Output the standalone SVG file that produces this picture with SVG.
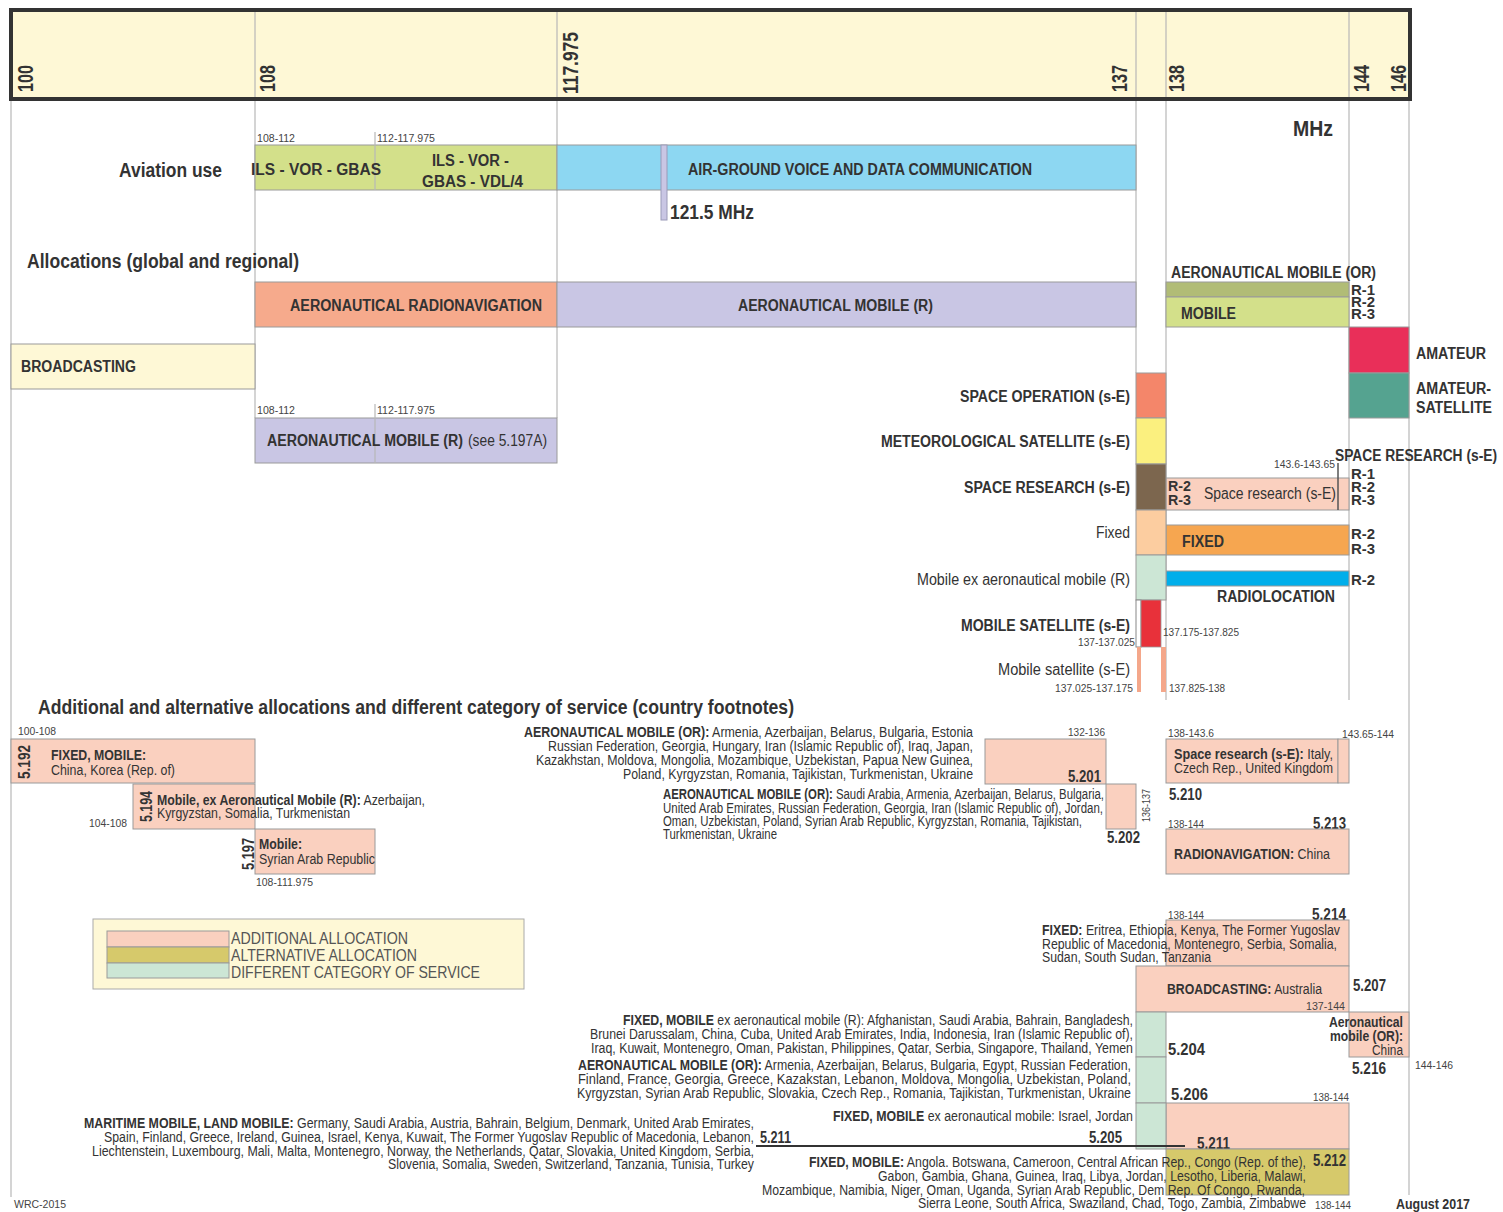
<svg xmlns="http://www.w3.org/2000/svg" width="1503" height="1212" viewBox="0 0 1503 1212">
<style>
text{font-family:"Liberation Sans Narrow","Liberation Sans",Arial,sans-serif;fill:#333}
.b{font-weight:bold}
.l{font-size:16px;font-weight:bold}
.h{font-size:22px;font-weight:bold}
.ti{font-size:20px;font-weight:bold}
.f{font-size:14px}
.s{font-size:11.5px;fill:#444}
.r{font-size:15px;font-weight:bold}
.lg{font-size:17px;fill:#555}
.g{stroke:#b8b8b8;stroke-width:1.2;fill:none}
.bx{stroke:#9a9a9a;stroke-width:1}
.pk{fill:#fad0bf}
</style>
<rect width="1503" height="1212" fill="#fff"/>

<g id="grid">
<line class="g" x1="11" y1="99" x2="11" y2="1197"/>
<line class="g" x1="255" y1="99" x2="255" y2="418"/>
<line class="g" x1="557" y1="99" x2="557" y2="418"/>
<line class="g" x1="1136" y1="99" x2="1136" y2="373"/>
<line class="g" x1="1166" y1="99" x2="1166" y2="700"/>
<line class="g" x1="1349" y1="99" x2="1349" y2="700"/>
<line class="g" x1="1409" y1="99" x2="1409" y2="1195"/>
</g>

<g id="header">
<rect x="11" y="10" width="1399" height="89" fill="#fef8d6" stroke="#333" stroke-width="4"/>
<g class="g">
<line x1="255" y1="12" x2="255" y2="97"/><line x1="557" y1="12" x2="557" y2="97"/>
<line x1="1136" y1="12" x2="1136" y2="97"/><line x1="1166" y1="12" x2="1166" y2="97"/>
<line x1="1349" y1="12" x2="1349" y2="97"/>
</g>
<text class="h" transform="translate(33,92) rotate(-90)" textLength="27" lengthAdjust="spacingAndGlyphs">100</text>
<text class="h" transform="translate(275,92) rotate(-90)" textLength="27" lengthAdjust="spacingAndGlyphs">108</text>
<text class="h" transform="translate(578,94) rotate(-90)" textLength="62" lengthAdjust="spacingAndGlyphs">117.975</text>
<text class="h" transform="translate(1127,92) rotate(-90)" textLength="27" lengthAdjust="spacingAndGlyphs">137</text>
<text class="h" transform="translate(1184,92) rotate(-90)" textLength="27" lengthAdjust="spacingAndGlyphs">138</text>
<text class="h" transform="translate(1369,92) rotate(-90)" textLength="27" lengthAdjust="spacingAndGlyphs">144</text>
<text class="h" transform="translate(1406,92) rotate(-90)" textLength="27" lengthAdjust="spacingAndGlyphs">146</text>
<text class="h" x="1293" y="136" textLength="40" lengthAdjust="spacingAndGlyphs">MHz</text>
</g>

<g id="aviation-use">
<text class="ti" x="119" y="177" textLength="103" lengthAdjust="spacingAndGlyphs">Aviation use</text>
<rect class="bx" x="255" y="145" width="302" height="45" fill="#d3e08a"/>
<line class="g" x1="375" y1="132" x2="375" y2="190"/>
<text class="s" x="257" y="142" textLength="38" lengthAdjust="spacingAndGlyphs">108-112</text>
<text class="s" x="377" y="142" textLength="58" lengthAdjust="spacingAndGlyphs">112-117.975</text>
<text class="l" x="251" y="175" textLength="130" lengthAdjust="spacingAndGlyphs">ILS - VOR - GBAS</text>
<text class="l" x="432" y="166" textLength="77" lengthAdjust="spacingAndGlyphs">ILS - VOR -</text>
<text class="l" x="422" y="187" textLength="101" lengthAdjust="spacingAndGlyphs">GBAS - VDL/4</text>
<rect class="bx" x="557" y="145" width="579" height="45" fill="#8dd7f2"/>
<text class="l" x="688" y="175" textLength="344" lengthAdjust="spacingAndGlyphs">AIR-GROUND  VOICE AND DATA COMMUNICATION</text>
<rect x="661" y="145" width="6" height="75" fill="#c9c6e4" stroke="#9a9ab8" stroke-width="1"/>
<text class="ti" x="670" y="219" textLength="84" lengthAdjust="spacingAndGlyphs">121.5 MHz</text>
</g>

<g id="allocations">
<text class="ti" x="27" y="268" textLength="272" lengthAdjust="spacingAndGlyphs">Allocations (global and regional)</text>
<rect class="bx" x="255" y="282" width="302" height="45" fill="#f6aa8c"/>
<text class="l" x="290" y="311" textLength="252" lengthAdjust="spacingAndGlyphs">AERONAUTICAL  RADIONAVIGATION</text>
<rect class="bx" x="557" y="282" width="579" height="45" fill="#c9c6e4"/>
<text class="l" x="738" y="311" textLength="195" lengthAdjust="spacingAndGlyphs">AERONAUTICAL MOBILE (R)</text>
<rect class="bx" x="11" y="344" width="244" height="45" fill="#fef8d6"/>
<text class="l" x="21" y="372" textLength="115" lengthAdjust="spacingAndGlyphs">BROADCASTING</text>
<text class="s" x="257" y="414" textLength="38" lengthAdjust="spacingAndGlyphs">108-112</text>
<text class="s" x="377" y="414" textLength="58" lengthAdjust="spacingAndGlyphs">112-117.975</text>
<rect class="bx" x="255" y="418" width="302" height="45" fill="#c9c6e4"/>
<line class="g" x1="375" y1="404" x2="375" y2="463"/>
<text class="l" x="267" y="446" textLength="196" lengthAdjust="spacingAndGlyphs">AERONAUTICAL MOBILE (R)</text>
<text x="468" y="446" style="font-size:16px" textLength="79" lengthAdjust="spacingAndGlyphs">(see 5.197A)</text>
</g>

<g id="band-138-144">
<text class="l" x="1171" y="278" textLength="205" lengthAdjust="spacingAndGlyphs">AERONAUTICAL MOBILE (OR)</text>
<rect class="bx" x="1166" y="282" width="183" height="15" fill="#b1bc76"/>
<rect class="bx" x="1166" y="297" width="183" height="30" fill="#d3e08a"/>
<text class="l" x="1181" y="319" textLength="55" lengthAdjust="spacingAndGlyphs">MOBILE</text>
<text class="r" x="1351" y="295" textLength="24" lengthAdjust="spacingAndGlyphs">R-1</text>
<text class="r" x="1351" y="307" textLength="24" lengthAdjust="spacingAndGlyphs">R-2</text>
<text class="r" x="1351" y="319" textLength="24" lengthAdjust="spacingAndGlyphs">R-3</text>

<rect class="bx" x="1166" y="478" width="183" height="32" fill="#fad0bf"/>
<line x1="1338" y1="463" x2="1338" y2="510" stroke="#555" stroke-width="1.5"/>
<text class="s" x="1274" y="468" textLength="61" lengthAdjust="spacingAndGlyphs">143.6-143.65</text>
<text class="l" x="1335" y="461" textLength="162" lengthAdjust="spacingAndGlyphs">SPACE RESEARCH (s-E)</text>
<text class="r" x="1168" y="491" textLength="23" lengthAdjust="spacingAndGlyphs">R-2</text>
<text class="r" x="1168" y="505" textLength="23" lengthAdjust="spacingAndGlyphs">R-3</text>
<text x="1204" y="499" style="font-size:16px" textLength="132" lengthAdjust="spacingAndGlyphs">Space research (s-E)</text>
<text class="r" x="1351" y="479" textLength="24" lengthAdjust="spacingAndGlyphs">R-1</text>
<text class="r" x="1351" y="492" textLength="24" lengthAdjust="spacingAndGlyphs">R-2</text>
<text class="r" x="1351" y="505" textLength="24" lengthAdjust="spacingAndGlyphs">R-3</text>

<rect class="bx" x="1166" y="525" width="183" height="30" fill="#f6a650"/>
<text class="l" x="1182" y="547" textLength="42" lengthAdjust="spacingAndGlyphs">FIXED</text>
<text class="r" x="1351" y="539" textLength="24" lengthAdjust="spacingAndGlyphs">R-2</text>
<text class="r" x="1351" y="554" textLength="24" lengthAdjust="spacingAndGlyphs">R-3</text>

<rect class="bx" x="1166" y="571" width="183" height="15" fill="#00aeea"/>
<text class="r" x="1351" y="585" textLength="24" lengthAdjust="spacingAndGlyphs">R-2</text>
<text class="l" x="1217" y="602" textLength="118" lengthAdjust="spacingAndGlyphs">RADIOLOCATION</text>
</g>

<g id="band-144-146">
<rect class="bx" x="1349" y="327" width="60" height="46" fill="#e92f59"/>
<rect class="bx" x="1349" y="373" width="60" height="45" fill="#55a390"/>
<text class="l" x="1416" y="359" textLength="70" lengthAdjust="spacingAndGlyphs">AMATEUR</text>
<text class="l" x="1416" y="394" textLength="75" lengthAdjust="spacingAndGlyphs">AMATEUR-</text>
<text class="l" x="1416" y="413" textLength="76" lengthAdjust="spacingAndGlyphs">SATELLITE</text>
</g>

<g id="band-137-138">
<rect class="bx" x="1136" y="373" width="30" height="45" fill="#f4866a"/>
<rect class="bx" x="1136" y="418" width="30" height="46" fill="#fbf07f"/>
<rect class="bx" x="1136" y="464" width="30" height="46" fill="#7c664e"/>
<rect class="bx" x="1136" y="510" width="30" height="45" fill="#fccda0"/>
<rect class="bx" x="1136" y="555" width="30" height="45" fill="#cce6d5"/>
<rect x="1136" y="600" width="5" height="47" fill="#fff" stroke="#888" stroke-width="1"/>
<rect x="1141" y="600" width="20" height="47" fill="#e8313a" stroke="#999" stroke-width="0.8"/>
<rect x="1137" y="647" width="4" height="45" fill="#f4a78a"/>
<rect x="1161" y="647" width="5" height="45" fill="#f4a78a"/>
<text class="l" x="960" y="402" textLength="170" lengthAdjust="spacingAndGlyphs">SPACE OPERATION (s-E)</text>
<text class="l" x="881" y="447" textLength="249" lengthAdjust="spacingAndGlyphs">METEOROLOGICAL SATELLITE (s-E)</text>
<text class="l" x="964" y="493" textLength="166" lengthAdjust="spacingAndGlyphs">SPACE RESEARCH (s-E)</text>
<text x="1096" y="538" style="font-size:16px" textLength="34" lengthAdjust="spacingAndGlyphs">Fixed</text>
<text x="917" y="585" style="font-size:16px" textLength="213" lengthAdjust="spacingAndGlyphs">Mobile ex  aeronautical mobile (R)</text>
<text class="l" x="961" y="631" textLength="169" lengthAdjust="spacingAndGlyphs">MOBILE SATELLITE (s-E)</text>
<text class="s" x="1078" y="646" textLength="57" lengthAdjust="spacingAndGlyphs">137-137.025</text>
<text x="998" y="675" style="font-size:16px" textLength="132" lengthAdjust="spacingAndGlyphs">Mobile satellite  (s-E)</text>
<text class="s" x="1055" y="692" textLength="78" lengthAdjust="spacingAndGlyphs">137.025-137.175</text>
<text class="s" x="1163" y="636" textLength="76" lengthAdjust="spacingAndGlyphs">137.175-137.825</text>
<text class="s" x="1169" y="692" textLength="56" lengthAdjust="spacingAndGlyphs">137.825-138</text>
</g>

<text class="ti" x="38" y="714" textLength="756" lengthAdjust="spacingAndGlyphs">Additional and alternative allocations and different category of service (country footnotes)</text>

<g id="fn-5-192">
<text class="s" x="18" y="735" textLength="38" lengthAdjust="spacingAndGlyphs">100-108</text>
<rect class="bx pk" x="11" y="739" width="244" height="44"/>
<text class="l" transform="translate(30,779) rotate(-90)" textLength="34" lengthAdjust="spacingAndGlyphs">5.192</text>
<text class="f b" x="51" y="760" textLength="95" lengthAdjust="spacingAndGlyphs">FIXED, MOBILE:</text>
<text class="f" x="51" y="775" textLength="124" lengthAdjust="spacingAndGlyphs">China, Korea (Rep. of)</text>
</g>
<g id="fn-5-194">
<rect class="bx pk" x="133" y="784" width="122" height="45"/>
<text class="l" transform="translate(152,822) rotate(-90)" textLength="31" lengthAdjust="spacingAndGlyphs">5.194</text>
<text class="f" x="157" y="805" textLength="268" lengthAdjust="spacingAndGlyphs"><tspan class="b">Mobile, ex Aeronautical Mobile (R):</tspan> Azerbaijan,</text>
<text class="f" x="157" y="818" textLength="193" lengthAdjust="spacingAndGlyphs">Kyrgyzstan, Somalia, Turkmenistan</text>
<text class="s" x="89" y="827" textLength="38" lengthAdjust="spacingAndGlyphs">104-108</text>
</g>
<g id="fn-5-197">
<rect class="bx pk" x="255" y="829" width="120" height="45"/>
<text class="l" transform="translate(254,870) rotate(-90)" textLength="32" lengthAdjust="spacingAndGlyphs">5.197</text>
<text class="f b" x="259" y="849" textLength="43" lengthAdjust="spacingAndGlyphs">Mobile:</text>
<text class="f" x="259" y="864" textLength="116" lengthAdjust="spacingAndGlyphs">Syrian Arab Republic</text>
<text class="s" x="256" y="886" textLength="57" lengthAdjust="spacingAndGlyphs">108-111.975</text>
</g>

<g id="legend">
<rect x="93" y="919" width="431" height="70" fill="#fef8d6" stroke="#aaa" stroke-width="1"/>
<rect class="bx" x="107" y="931" width="122" height="16" fill="#fad0bf"/>
<rect class="bx" x="107" y="947" width="122" height="16" fill="#d6c96b"/>
<rect class="bx" x="107" y="963" width="122" height="15" fill="#cce6d5"/>
<text class="lg" x="231" y="944" textLength="177" lengthAdjust="spacingAndGlyphs">ADDITIONAL ALLOCATION</text>
<text class="lg" x="231" y="961" textLength="186" lengthAdjust="spacingAndGlyphs">ALTERNATIVE ALLOCATION</text>
<text class="lg" x="231" y="978" textLength="249" lengthAdjust="spacingAndGlyphs">DIFFERENT CATEGORY OF SERVICE</text>
</g>

<g id="fn-5-201">
<text class="s" x="1068" y="736" textLength="37" lengthAdjust="spacingAndGlyphs">132-136</text>
<rect class="bx pk" x="985" y="739" width="121" height="45"/>
<text class="l" x="1068" y="782" textLength="33" lengthAdjust="spacingAndGlyphs">5.201</text>
<text class="f" x="524" y="737" textLength="449" lengthAdjust="spacingAndGlyphs"><tspan class="b">AERONAUTICAL MOBILE (OR):</tspan>  Armenia, Azerbaijan, Belarus, Bulgaria, Estonia</text>
<text class="f" x="548" y="751" textLength="425" lengthAdjust="spacingAndGlyphs">Russian Federation, Georgia, Hungary, Iran (Islamic Republic of), Iraq, Japan,</text>
<text class="f" x="536" y="765" textLength="437" lengthAdjust="spacingAndGlyphs">Kazakhstan, Moldova, Mongolia, Mozambique, Uzbekistan, Papua New Guinea,</text>
<text class="f" x="623" y="779" textLength="350" lengthAdjust="spacingAndGlyphs">Poland, Kyrgyzstan, Romania, Tajikistan, Turkmenistan, Ukraine</text>
</g>
<g id="fn-5-202">
<rect class="bx pk" x="1106" y="784" width="30" height="45"/>
<text class="s" transform="translate(1150,822) rotate(-90)" textLength="33" lengthAdjust="spacingAndGlyphs">136-137</text>
<text class="l" x="1107" y="843" textLength="33" lengthAdjust="spacingAndGlyphs">5.202</text>
<text class="f" x="663" y="799" textLength="441" lengthAdjust="spacingAndGlyphs"><tspan class="b">AERONAUTICAL MOBILE (OR):</tspan> Saudi Arabia, Armenia, Azerbaijan, Belarus, Bulgaria,</text>
<text class="f" x="663" y="813" textLength="440" lengthAdjust="spacingAndGlyphs">United Arab Emirates, Russian Federation, Georgia, Iran (Islamic Republic of), Jordan,</text>
<text class="f" x="663" y="826" textLength="419" lengthAdjust="spacingAndGlyphs">Oman, Uzbekistan, Poland, Syrian Arab Republic, Kyrgyzstan, Romania, Tajikistan,</text>
<text class="f" x="663" y="839" textLength="114" lengthAdjust="spacingAndGlyphs">Turkmenistan, Ukraine</text>
</g>

<g id="fn-5-210">
<text class="s" x="1168" y="737" textLength="46" lengthAdjust="spacingAndGlyphs">138-143.6</text>
<text class="s" x="1342" y="738" textLength="52" lengthAdjust="spacingAndGlyphs">143.65-144</text>
<rect class="bx pk" x="1166" y="739" width="172" height="44"/>
<rect class="bx pk" x="1338" y="739" width="11" height="44"/>
<text class="f" x="1174" y="759" textLength="159" lengthAdjust="spacingAndGlyphs"><tspan class="b">Space research (s-E):</tspan>  Italy,</text>
<text class="f" x="1174" y="773" textLength="159" lengthAdjust="spacingAndGlyphs">Czech Rep., United Kingdom</text>
<text class="l" x="1169" y="800" textLength="33" lengthAdjust="spacingAndGlyphs">5.210</text>
</g>
<g id="fn-5-213">
<text class="s" x="1168" y="828" textLength="36" lengthAdjust="spacingAndGlyphs">138-144</text>
<text class="l" x="1313" y="829" textLength="33" lengthAdjust="spacingAndGlyphs">5.213</text>
<rect class="bx pk" x="1166" y="829" width="183" height="45"/>
<text class="f" x="1174" y="859" textLength="156" lengthAdjust="spacingAndGlyphs"><tspan class="b">RADIONAVIGATION:</tspan> China</text>
</g>
<g id="fn-5-214">
<text class="s" x="1168" y="919" textLength="36" lengthAdjust="spacingAndGlyphs">138-144</text>
<text class="l" x="1312" y="920" textLength="34" lengthAdjust="spacingAndGlyphs">5.214</text>
<rect class="bx pk" x="1166" y="920" width="183" height="46"/>
<text class="f" x="1042" y="935" textLength="298" lengthAdjust="spacingAndGlyphs"><tspan class="b">FIXED:</tspan> Eritrea, Ethiopia, Kenya, The Former Yugoslav</text>
<text class="f" x="1042" y="949" textLength="295" lengthAdjust="spacingAndGlyphs">Republic of Macedonia, Montenegro, Serbia, Somalia,</text>
<text class="f" x="1042" y="962" textLength="169" lengthAdjust="spacingAndGlyphs">Sudan, South Sudan, Tanzania</text>
</g>
<g id="fn-5-207">
<rect class="bx pk" x="1136" y="966" width="213" height="46"/>
<text class="f" x="1167" y="994" textLength="155" lengthAdjust="spacingAndGlyphs"><tspan class="b">BROADCASTING:</tspan> Australia</text>
<text class="s" x="1306" y="1010" textLength="39" lengthAdjust="spacingAndGlyphs">137-144</text>
<text class="l" x="1353" y="991" textLength="33" lengthAdjust="spacingAndGlyphs">5.207</text>
</g>
<g id="fn-5-216">
<rect class="bx pk" x="1349" y="1012" width="60" height="45"/>
<text class="f b" x="1329" y="1027" textLength="74" lengthAdjust="spacingAndGlyphs">Aeronautical</text>
<text class="f b" x="1330" y="1041" textLength="73" lengthAdjust="spacingAndGlyphs">mobile (OR):</text>
<text class="f" x="1372" y="1055" textLength="31" lengthAdjust="spacingAndGlyphs">China</text>
<text class="l" x="1352" y="1074" textLength="34" lengthAdjust="spacingAndGlyphs">5.216</text>
<text class="s" x="1415" y="1069" textLength="38" lengthAdjust="spacingAndGlyphs">144-146</text>
</g>
<g id="fn-5-204">
<rect class="bx" x="1136" y="1012" width="30" height="45" fill="#cce6d5"/>
<text class="l" x="1168" y="1055" textLength="37" lengthAdjust="spacingAndGlyphs">5.204</text>
<text class="f" x="623" y="1025" textLength="510" lengthAdjust="spacingAndGlyphs"><tspan class="b">FIXED, MOBILE</tspan> ex aeronautical mobile (R): Afghanistan, Saudi Arabia, Bahrain, Bangladesh,</text>
<text class="f" x="590" y="1039" textLength="543" lengthAdjust="spacingAndGlyphs">Brunei Darussalam, China, Cuba, United Arab Emirates, India, Indonesia, Iran (Islamic Republic of),</text>
<text class="f" x="591" y="1053" textLength="542" lengthAdjust="spacingAndGlyphs">Iraq,  Kuwait, Montenegro, Oman, Pakistan, Philippines, Qatar, Serbia, Singapore, Thailand, Yemen</text>
</g>
<g id="fn-5-206">
<rect class="bx" x="1136" y="1057" width="30" height="46" fill="#cce6d5"/>
<text class="l" x="1171" y="1100" textLength="37" lengthAdjust="spacingAndGlyphs">5.206</text>
<text class="f" x="578" y="1070" textLength="553" lengthAdjust="spacingAndGlyphs"><tspan class="b">AERONAUTICAL MOBILE (OR):</tspan> Armenia, Azerbaijan, Belarus, Bulgaria, Egypt, Russian Federation,</text>
<text class="f" x="578" y="1084" textLength="553" lengthAdjust="spacingAndGlyphs">Finland,  France,  Georgia,  Greece,  Kazakstan,  Lebanon,   Moldova, Mongolia, Uzbekistan, Poland,</text>
<text class="f" x="577" y="1098" textLength="554" lengthAdjust="spacingAndGlyphs">Kyrgyzstan,  Syrian Arab Republic, Slovakia, Czech Rep., Romania, Tajikistan, Turkmenistan, Ukraine</text>
</g>
<g id="fn-5-211">
<text class="s" x="1313" y="1101" textLength="36" lengthAdjust="spacingAndGlyphs">138-144</text>
<rect class="bx pk" x="1166" y="1103" width="183" height="46"/>
<text class="f" x="84" y="1128" textLength="670" lengthAdjust="spacingAndGlyphs"><tspan class="b">MARITIME MOBILE, LAND MOBILE:</tspan> Germany,  Saudi Arabia, Austria, Bahrain, Belgium, Denmark, United Arab Emirates,</text>
<text class="f" x="104" y="1142" textLength="650" lengthAdjust="spacingAndGlyphs">Spain, Finland, Greece, Ireland, Guinea, Israel, Kenya, Kuwait, The Former Yugoslav Republic of Macedonia, Lebanon,</text>
<text class="f" x="92" y="1156" textLength="662" lengthAdjust="spacingAndGlyphs">Liechtenstein, Luxembourg, Mali, Malta, Montenegro,  Norway, the Netherlands, Qatar, Slovakia, United Kingdom, Serbia,</text>
<text class="f" x="388" y="1169" textLength="366" lengthAdjust="spacingAndGlyphs">Slovenia, Somalia, Sweden, Switzerland, Tanzania, Tunisia, Turkey</text>
<text class="l" x="760" y="1143" textLength="31" lengthAdjust="spacingAndGlyphs">5.211</text>
<text class="l" x="1197" y="1149" textLength="33" lengthAdjust="spacingAndGlyphs">5.211</text>
</g>
<g id="fn-5-205">
<rect class="bx" x="1136" y="1103" width="30" height="46" fill="#cce6d5"/>
<text class="f" x="833" y="1121" textLength="300" lengthAdjust="spacingAndGlyphs"><tspan class="b">FIXED, MOBILE</tspan> ex aeronautical mobile: Israel, Jordan</text>
<text class="l" x="1089" y="1143" textLength="33" lengthAdjust="spacingAndGlyphs">5.205</text>
</g>
<g id="fn-5-212">
<rect class="bx" x="1166" y="1149" width="183" height="46" fill="#d6c96b"/>
<text class="l" x="1313" y="1166" textLength="33" lengthAdjust="spacingAndGlyphs">5.212</text>
<text class="f" x="809" y="1167" textLength="497" lengthAdjust="spacingAndGlyphs"><tspan class="b">FIXED, MOBILE:</tspan> Angola. Botswana, Cameroon, Central African Rep., Congo (Rep. of the),</text>
<text class="f" x="878" y="1181" textLength="428" lengthAdjust="spacingAndGlyphs">Gabon, Gambia, Ghana, Guinea, Iraq, Libya, Jordan, Lesotho, Liberia, Malawi,</text>
<text class="f" x="762" y="1195" textLength="543" lengthAdjust="spacingAndGlyphs">Mozambique, Namibia, Niger, Oman, Uganda, Syrian Arab Republic, Dem Rep. Of Congo, Rwanda,</text>
<text class="f" x="918" y="1208" textLength="388" lengthAdjust="spacingAndGlyphs">Sierra Leone, South Africa, Swaziland, Chad, Togo, Zambia, Zimbabwe</text>
<text class="s" x="1315" y="1209" textLength="36" lengthAdjust="spacingAndGlyphs">138-144</text>
</g>

<g id="connectors">
<line x1="756" y1="1146" x2="1185" y2="1146" stroke="#333" stroke-width="2"/>
</g>

<text class="s" x="14" y="1208" textLength="52" lengthAdjust="spacingAndGlyphs">WRC-2015</text>
<text class="r" x="1396" y="1209" textLength="74" lengthAdjust="spacingAndGlyphs">August 2017</text>
</svg>
